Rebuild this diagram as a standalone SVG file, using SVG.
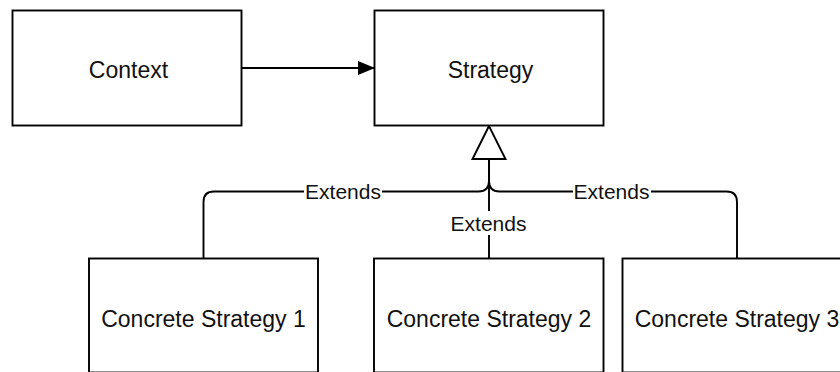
<svg xmlns="http://www.w3.org/2000/svg" width="840" height="372" viewBox="0 0 840 372">
  <style>
    .box { fill: #ffffff; stroke: #000000; stroke-width: 1.9; }
    .label { font-family: "Liberation Sans", Arial, Helvetica, sans-serif; font-size: 23px; fill: #111111; text-anchor: middle; }
    .edge { fill: none; stroke: #000000; stroke-width: 1.9; }
    .edge-label { font-family: "Liberation Sans", Arial, Helvetica, sans-serif; font-size: 21px; fill: #111111; text-anchor: middle; }
    .label-bg { fill: #ffffff; stroke: none; }
    .inherit-head { fill: #ffffff; stroke: #000000; stroke-width: 1.9; stroke-linejoin: miter; }
  </style>
  <defs>
    <marker id="arrow-solid" markerUnits="userSpaceOnUse" markerWidth="17" markerHeight="14" viewBox="0 0 17 14" refX="16" refY="7" orient="auto">
      <path d="M0,0 L17,7 L0,14 Z" fill="#000000"/>
    </marker>
  </defs>

  <rect width="840" height="372" fill="#ffffff"/>

  <!-- connectors -->
  <g id="connectors">
    <!-- Context uses Strategy -->
    <path class="edge" d="M241.5,68 H374" marker-end="url(#arrow-solid)"/>

    <!-- generalisation edges into Strategy -->
    <path class="edge" d="M203.5,258.5 V202 Q203.5,191.5 214,191.5 H478.5 Q489,191.5 489,181 V159"/>
    <path class="edge" d="M489,258.5 V159"/>
    <path class="edge" d="M737,258.5 V202 Q737,191.5 726.5,191.5 H499.5 Q489,191.5 489,181 V159"/>

    <!-- hollow inheritance triangle -->
    <polygon class="inherit-head" points="489,126 472.5,159 505.5,159"/>

    <!-- edge labels -->
    <rect class="label-bg" x="304" y="182" width="78" height="20"/>
    <text class="edge-label" x="343" y="199">Extends</text>
    <rect class="label-bg" x="450" y="211" width="78" height="24"/>
    <text class="edge-label" x="488.5" y="230.5">Extends</text>
    <rect class="label-bg" x="573" y="182" width="78" height="20"/>
    <text class="edge-label" x="611.5" y="199">Extends</text>
  </g>

  <!-- nodes -->
  <g id="context">
    <rect class="box" x="12.5" y="10.5" width="229" height="115"/>
    <text class="label" x="128.5" y="78">Context</text>
  </g>

  <g id="strategy">
    <rect class="box" x="374.5" y="10.5" width="229" height="115"/>
    <text class="label" x="490.5" y="78">Strategy</text>
  </g>

  <g id="concrete-strategy-1">
    <rect class="box" x="89" y="258.5" width="229" height="114"/>
    <text class="label" x="203.5" y="326.5">Concrete Strategy 1</text>
  </g>

  <g id="concrete-strategy-2">
    <rect class="box" x="374" y="258.5" width="229.5" height="114"/>
    <text class="label" x="489" y="326.5">Concrete Strategy 2</text>
  </g>

  <g id="concrete-strategy-3">
    <rect class="box" x="622.5" y="258.5" width="229" height="114"/>
    <text class="label" x="737" y="326.5">Concrete Strategy 3</text>
  </g>
</svg>
